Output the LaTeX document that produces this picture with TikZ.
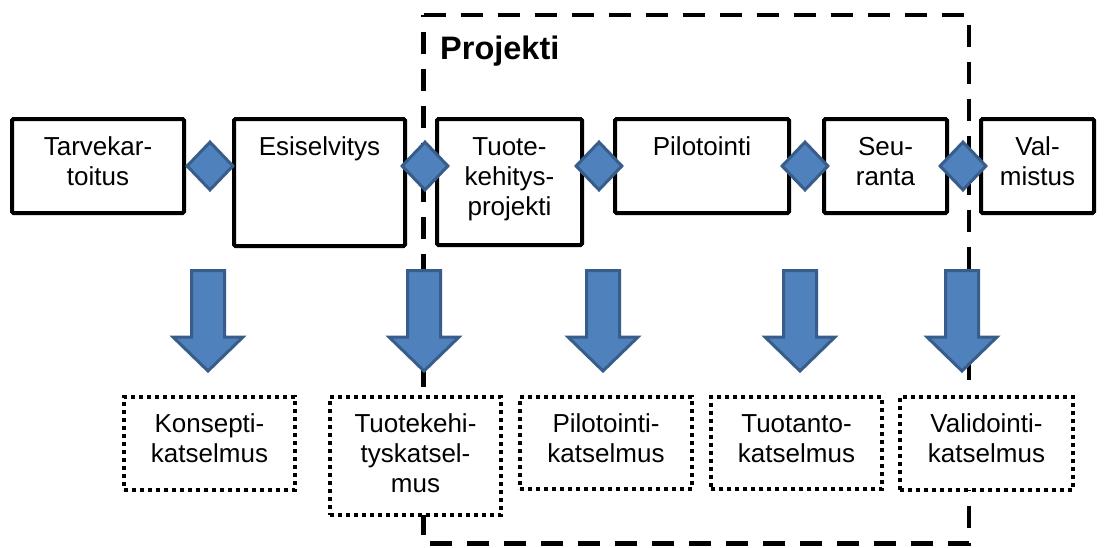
\documentclass[tikz,border=0pt]{standalone}
\usepackage{fontspec}
\setmainfont{Liberation Sans}
\usetikzlibrary{shapes.geometric}

\definecolor{blockfill}{HTML}{4F81BD}
\definecolor{blockedge}{HTML}{385D8A}

\begin{document}
\begin{tikzpicture}[x=1pt, y=-1pt,
  phasebox/.style={draw=black, line width=4pt, fill=white, rounded corners=1.5pt,
    inner sep=0pt, align=center, anchor=north, text height=36pt,
    font=\fontsize{26}{30}\selectfont},
  reviewbox/.style={draw=black, line width=4pt, dash pattern=on 4pt off 4pt,
    line cap=butt, fill=white, inner sep=0pt, align=center, anchor=north,
    text height=35pt, font=\fontsize{26}{30}\selectfont},
  gate/.style={diamond, draw=blockedge, fill=blockfill, line width=3pt,
    minimum width=47pt, minimum height=49pt, inner sep=0pt},
  projectframe/.style={draw=black, line width=4.5pt, dash pattern=on 22pt off 15pt,
    line cap=butt},
  blockarrow/.pic={
    \path[draw=blockedge, fill=blockfill, line width=3pt, line join=miter]
      (-16.5,0) -- (16.5,0) -- (16.5,66.5) -- (35,66.5) -- (0,100.5)
      -- (-35,66.5) -- (-16.5,66.5) -- cycle;
  }
]
\useasboundingbox (0,0) rectangle (1104,547);

% project frame
\coordinate (fr-tl) at (423.5,15);
\coordinate (fr-tr) at (969,15);
\coordinate (fr-br) at (969,543.5);
\coordinate (fr-bl) at (423.5,543.5);
\draw[projectframe] (fr-tl) -- (fr-tr) -- (fr-br) -- (fr-bl) -- cycle;
\node[anchor=base west, inner sep=0pt, font=\bfseries\fontsize{32.5}{36}\selectfont]
  (projekti) at (440,59) {Projekti};

% process phases
\node[phasebox, text width=172pt, text depth=58pt] (tarve)  at (98,117)    {Tarvekar-\\toitus};
\node[phasebox, text width=171pt, text depth=91pt] (esi)    at (319.5,117) {Esiselvitys};
\node[phasebox, text width=145pt, text depth=90pt] (tuote)  at (509.5,117) {Tuote-\\kehitys-\\projekti};
\node[phasebox, text width=174pt, text depth=58pt] (pilot)  at (702,117)   {Pilotointi};
\node[phasebox, text width=123pt, text depth=58pt] (seu)    at (885.5,117) {Seu-\\ranta};
\node[phasebox, text width=113pt, text depth=58pt] (valm)   at (1037.5,117){Val-\\mistus};

% decision gates
\node[gate] (g1) at (210,166) {};
\node[gate] (g2) at (425,166) {};
\node[gate] (g3) at (599,166) {};
\node[gate] (g4) at (805,166) {};
\node[gate] (g5) at (963,166) {};

% block arrows down to the reviews
\pic at (208,270.5) {blockarrow};
\pic at (424,270.5) {blockarrow};
\pic at (603,270.5) {blockarrow};
\pic at (800,270.5) {blockarrow};
\pic at (962,270.5) {blockarrow};

% reviews
\node[reviewbox, text width=171pt, text depth=58pt] (rk) at (209.5,395) {Konsepti-\\katselmus};
\node[reviewbox, text width=171pt, text depth=83pt] (rt) at (415.5,395) {Tuotekehi-\\tyskatsel-\\mus};
\node[reviewbox, text width=172pt, text depth=57pt] (rp) at (606,395)   {Pilotointi-\\katselmus};
\node[reviewbox, text width=171pt, text depth=57pt] (ru) at (796.5,395) {Tuotanto-\\katselmus};
\node[reviewbox, text width=173pt, text depth=58pt] (rv) at (986.5,395) {Validointi-\\katselmus};
\end{tikzpicture}
\end{document}
